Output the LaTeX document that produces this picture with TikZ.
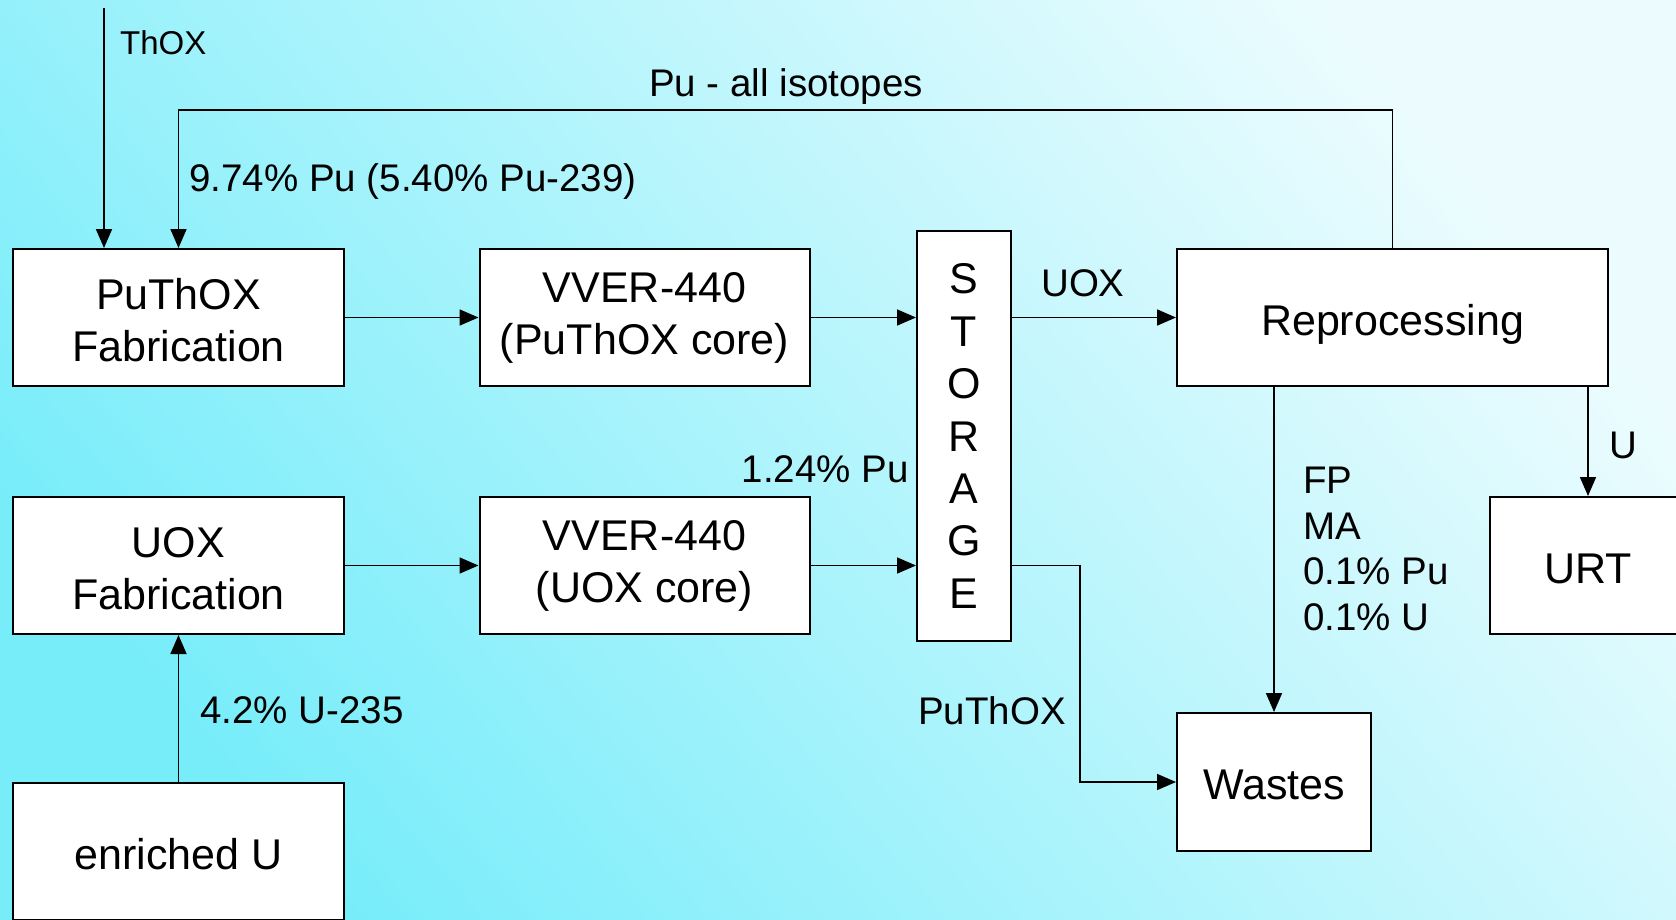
\documentclass[tikz,border=0pt]{standalone}
\usepackage{fontspec}
\setmainfont{Liberation Sans}
\usetikzlibrary{arrows.meta}
\definecolor{bgLL}{RGB}{120,237,250}
\definecolor{bgUR}{RGB}{236,252,254}
\tikzset{
  box/.style={draw=black, fill=white, line width=2pt, inner sep=0pt, align=center,
              font=\fontsize{43}{52}\selectfont},
  onebox/.style={box, text height=35pt, text depth=0pt},
  fabbox/.style={box, text height=87.5pt, text depth=0pt},
  arr/.style={line width=1.7pt, -{Triangle[length=19pt,width=16pt]}},
  lbl/.style={inner sep=0pt, font=\fontsize{38.5}{45.7}\selectfont, align=left},
  smalllbl/.style={inner sep=0pt, font=\fontsize{33}{40}\selectfont}
}
\begin{document}
\begin{tikzpicture}[x=1pt,y=-1pt]
\useasboundingbox (0,0) rectangle (1676,919);
\clip (0,0) rectangle (1676,919);
\shade[bottom color=bgLL, top color=bgUR, shading angle=-50] (0,0) rectangle (1676,919);

% boxes
\node[fabbox, minimum width=331pt, minimum height=137pt] (pfab) at (178.5,317.5) {PuThOX\\Fabrication};
\node[box, minimum width=330pt, minimum height=137pt] (vp) at (644.5,317.5) {VVER-440\\(PuThOX core)};
\node[box, minimum width=94pt, minimum height=410pt, font=\fontsize{43}{52.4}\selectfont] (stor) at (964,436) {S\\T\\O\\R\\A\\G\\E};
\node[onebox, minimum width=431pt, minimum height=137pt] (rep) at (1392.5,317.5) {Reprocessing};
\node[fabbox, minimum width=331pt, minimum height=137pt] (ufab) at (178.5,565.5) {UOX\\Fabrication};
\node[box, minimum width=330pt, minimum height=137pt] (vu) at (644.5,565.5) {VVER-440\\(UOX core)};
\node[onebox, minimum width=196pt, minimum height=137pt] (urt) at (1588,565.5) {URT};
\node[onebox, minimum width=194pt, minimum height=138pt] (wastes) at (1274,782) {Wastes};
\node[onebox, minimum width=331pt, minimum height=137pt] (enr) at (178.5,851.5) {enriched U};

% coordinates
\coordinate (thoxtop) at (104,8);
\coordinate (pucorner) at (178.5,110);
\coordinate (wbend) at (1080,565.5);

% connectors
\draw[arr] (thoxtop) -- (thoxtop |- pfab.north);
\draw[arr] (rep.north) |- (pucorner) -- (pfab.north);
\draw[arr] (pfab.east) -- (vp.west);
\draw[arr] (vp.east) -- (vp.east -| stor.west);
\draw[arr] (rep.west -| stor.east) -- (rep.west);
\draw[arr] (ufab.east) -- (vu.west);
\draw[arr] (vu.east) -- (vu.east -| stor.west);
\draw[arr] (wbend -| stor.east) -- (wbend) |- (wastes.west);
\draw[arr] (wastes.north |- rep.south) -- (wastes.north);
\draw[arr] (urt.north |- rep.south) -- (urt.north);
\draw[arr] (enr.north) -- (ufab.south);

% labels
\node[smalllbl, anchor=west] (lthox) at (120,43) {ThOX};
\node[lbl, anchor=base] (lpu) at (786,96) {Pu - all isotopes};
\node[lbl, anchor=base west] (l974) at (189,191.3) {9.74\% Pu (5.40\% Pu-239)};
\node[lbl, anchor=west] (luox) at (1041,283) {UOX};
\node[lbl, anchor=east] (l124) at (909,469) {1.24\% Pu};
\node[lbl, anchor=west] (lputhox) at (918,711) {PuThOX};
\node[lbl, anchor=west] (lfp) at (1303,549) {FP\\MA\\0.1\% Pu\\0.1\% U};
\node[lbl, anchor=west] (lu) at (1609,445) {U};
\node[lbl, anchor=west] (l42) at (200,710) {4.2\% U-235};
\end{tikzpicture}
\end{document}
